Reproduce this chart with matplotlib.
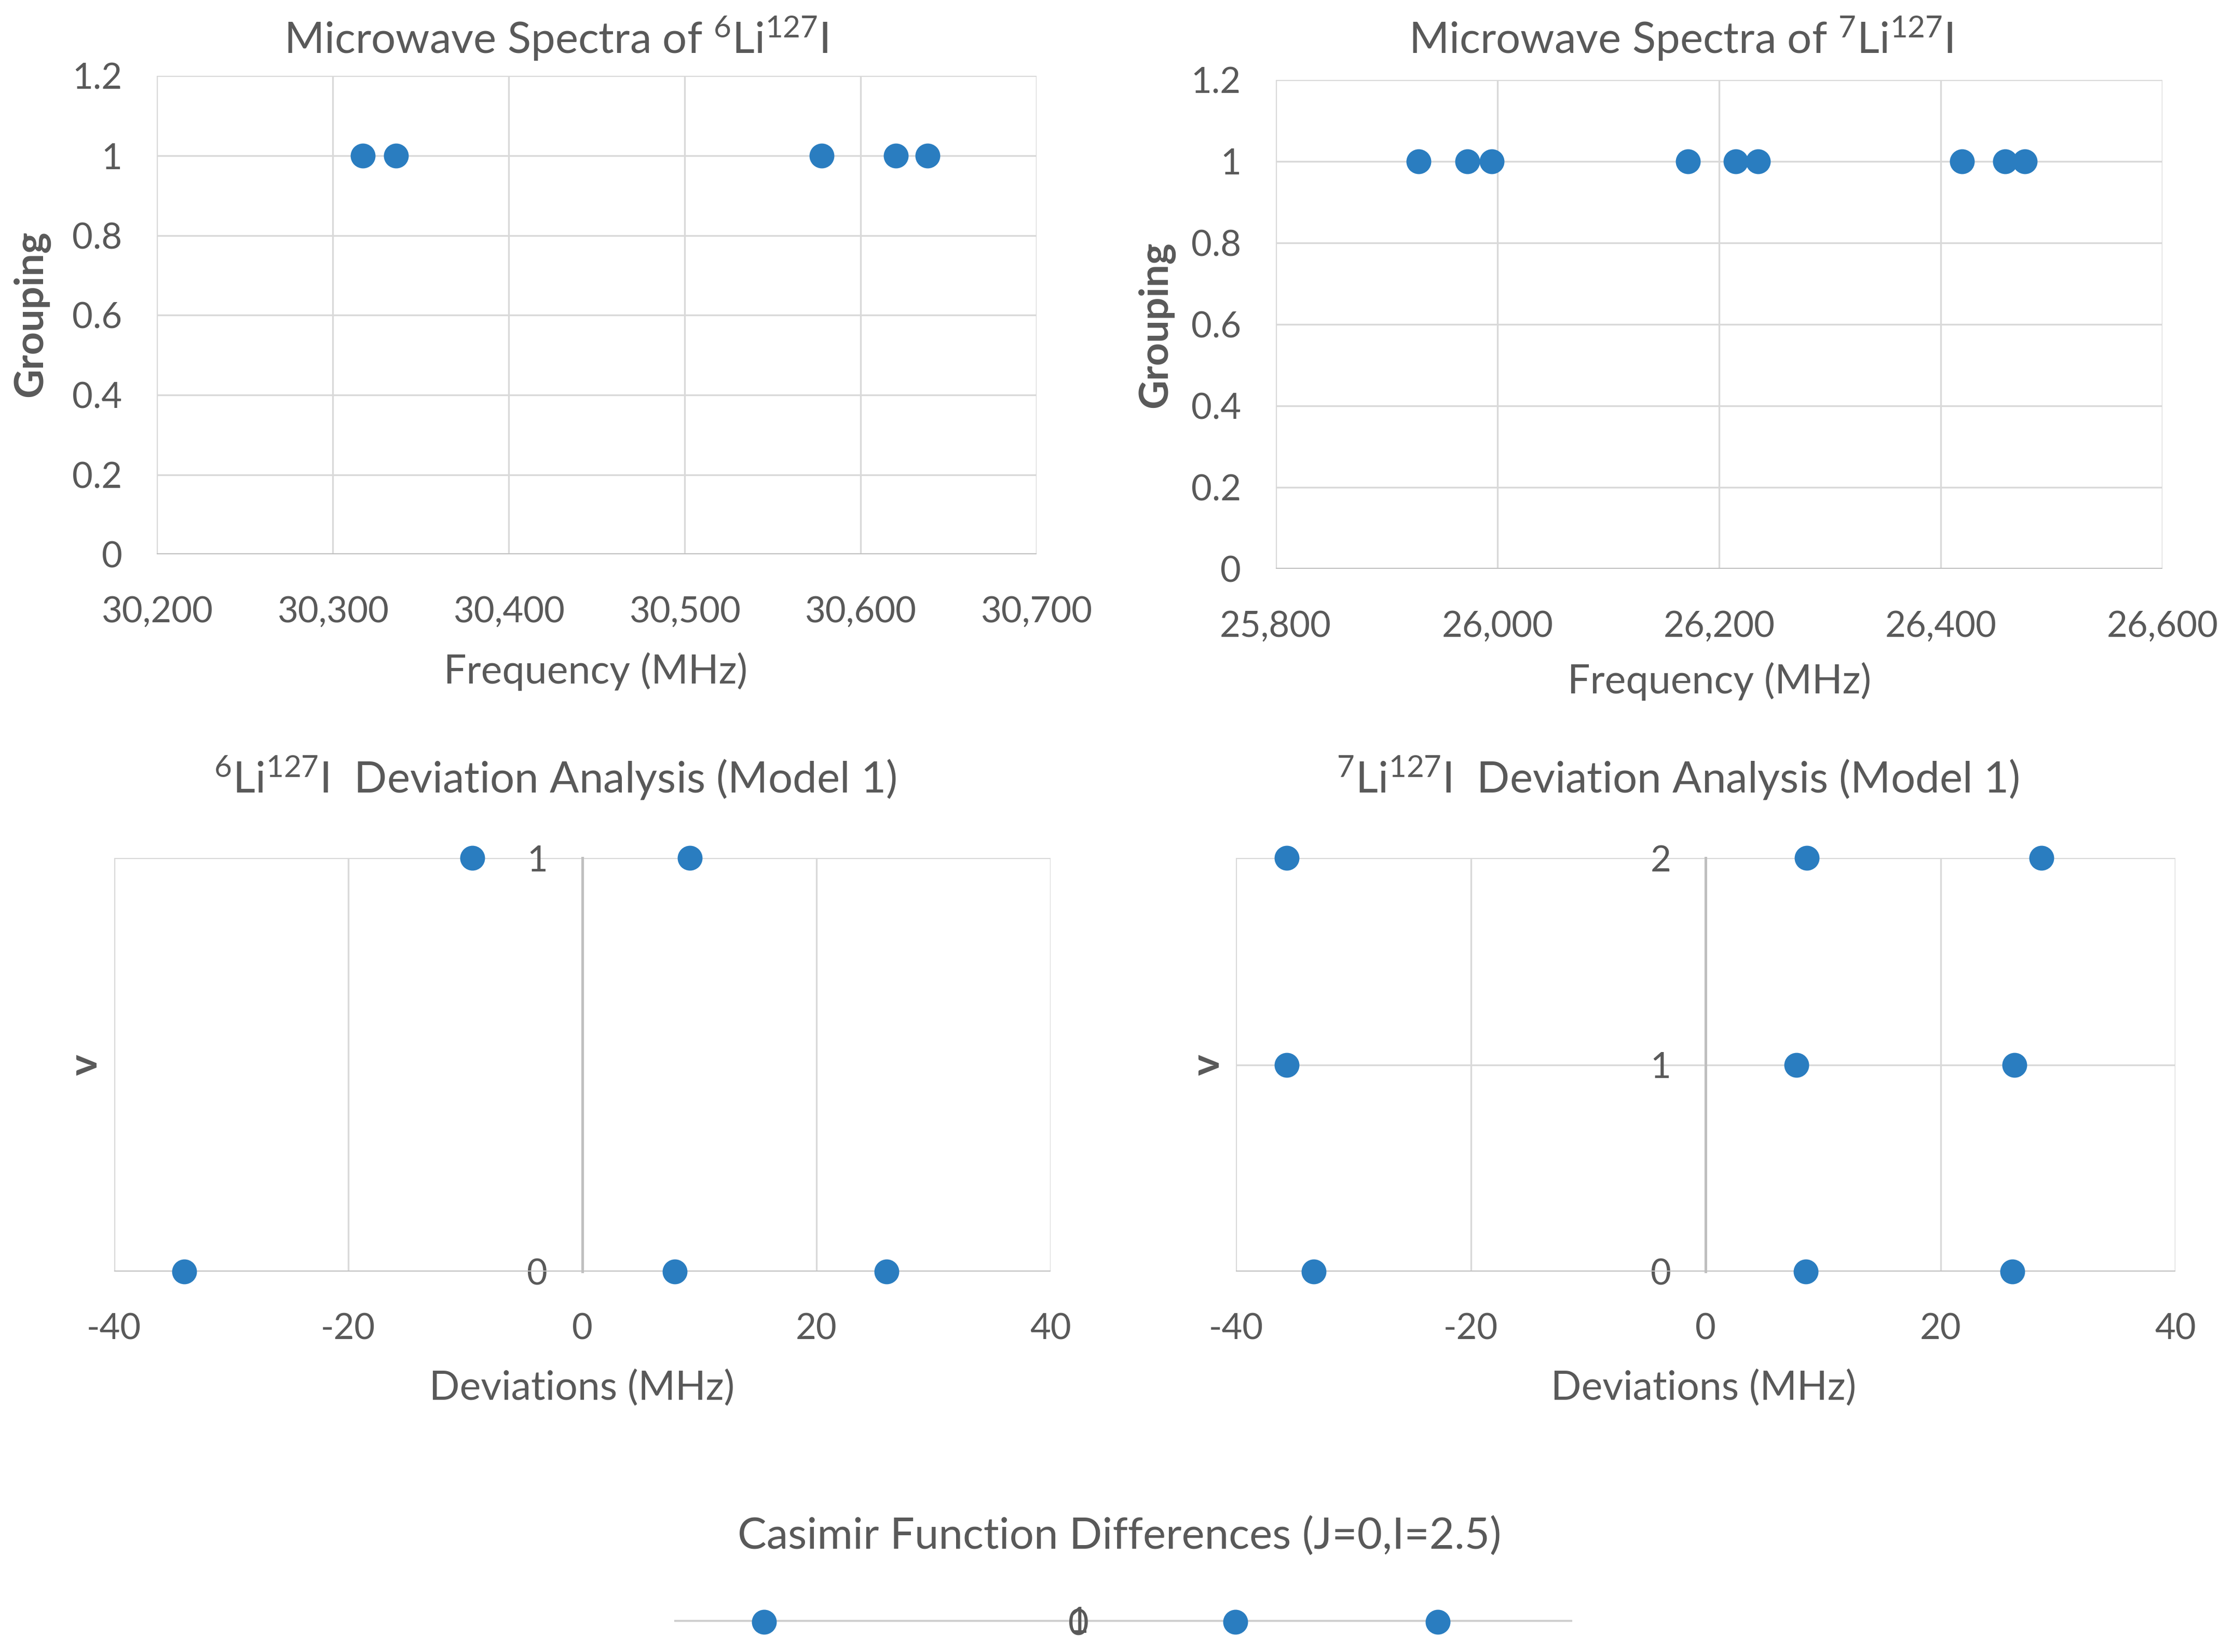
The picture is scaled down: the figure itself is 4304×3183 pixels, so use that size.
import matplotlib
matplotlib.use("Agg")
import matplotlib.pyplot as plt
from matplotlib.ticker import FuncFormatter

# ---------------- data ----------------
li6_freq = [30317, 30336, 30578, 30620, 30638]
li6_group = [1, 1, 1, 1, 1]

li7_freq = [25929, 25973, 25995, 26172, 26215, 26235, 26419, 26458, 26476]
li7_group = [1, 1, 1, 1, 1, 1, 1, 1, 1]

li6_dev = [-9.4, 9.2, -34.0, 7.9, 26.0]
li6_v = [1, 1, 0, 0, 0]

li7_dev = [-35.7, 8.6, 28.6, -35.7, 7.7, 26.3, -33.4, 8.5, 26.1]
li7_v = [2, 2, 2, 1, 1, 1, 0, 0, 0]

casimir_x = [-0.16, 0.05, 0.14]
casimir_y = [0, 0, 0]

# ---------------- style ----------------
plt.rcParams['font.family'] = ['Lato', 'DejaVu Sans']
plt.rcParams['mathtext.fontset'] = 'custom'
plt.rcParams['mathtext.rm'] = 'Lato'
plt.rcParams['mathtext.it'] = 'Lato:italic'
plt.rcParams['mathtext.bf'] = 'Lato:bold'

TXT = '#595959'
GRID = '#D9D9D9'
AXL = '#BFBFBF'
DOT = '#2A7DC0'
MS = 10.5
TICK_FS = 16.5
TITLE_FS = 20
LAB_FS = 18.5

fig = plt.figure(figsize=(4304/300, 3183/300), dpi=300)


def base_style(ax):
    for s in ax.spines.values():
        s.set_visible(False)
    ax.grid(True, color=GRID, lw=0.8, zorder=0)
    ax.set_axisbelow(True)
    ax.tick_params(length=0, labelsize=TICK_FS, labelcolor=TXT, pad=16)
    ax.tick_params(axis='x', pad=19)


comma = FuncFormatter(lambda v, p: f"{v:,.0f}")
dec = FuncFormatter(lambda v, p: f"{v:g}")

# ---- top-left ----
ax1 = fig.add_axes([0.0702, 0.6644, 0.3938, 0.2896])
base_style(ax1)
ax1.set_xlim(30200, 30700)
ax1.set_ylim(0, 1.2)
ax1.set_xticks([30200, 30300, 30400, 30500, 30600, 30700])
ax1.set_yticks([0, 0.2, 0.4, 0.6, 0.8, 1.0, 1.2])
ax1.xaxis.set_major_formatter(comma)
ax1.yaxis.set_major_formatter(dec)
ax1.axhline(0, color=AXL, lw=1.2, zorder=1)
ax1.plot(li6_freq, li6_group, 'o', color=DOT, ms=MS, ls='none', zorder=3, clip_on=False)

# ---- top-right ----
ax2 = fig.add_axes([0.571, 0.6557, 0.397, 0.296])
base_style(ax2)
ax2.set_xlim(25800, 26600)
ax2.set_ylim(0, 1.2)
ax2.set_xticks([25800, 26000, 26200, 26400, 26600])
ax2.set_yticks([0, 0.2, 0.4, 0.6, 0.8, 1.0, 1.2])
ax2.xaxis.set_major_formatter(comma)
ax2.yaxis.set_major_formatter(dec)
ax2.axhline(0, color=AXL, lw=1.2, zorder=1)
ax2.plot(li7_freq, li7_group, 'o', color=DOT, ms=MS, ls='none', zorder=3, clip_on=False)


def dev_axes(rect, vmax, dev, v):
    ax = fig.add_axes(rect)
    base_style(ax)
    ax.set_xlim(-40, 40)
    ax.set_ylim(0, vmax)
    ax.set_xticks([-40, -20, 0, 20, 40])
    ax.set_yticks(list(range(vmax + 1)))
    ax.xaxis.set_major_formatter(dec)
    ax.spines['left'].set_visible(True)
    ax.spines['left'].set_position(('data', 0))
    ax.spines['left'].set_color(AXL)
    ax.spines['left'].set_linewidth(1.2)
    ax.axhline(0, color=AXL, lw=1.2, zorder=1)
    ax.tick_params(axis='y', pad=16)
    ax.plot(dev, v, 'o', color=DOT, ms=MS, ls='none', zorder=3, clip_on=False)
    return ax

ax3 = dev_axes([0.051, 0.2303, 0.4193, 0.2503], 1, li6_dev, li6_v)
ax4 = dev_axes([0.5533, 0.2303, 0.4205, 0.2503], 2, li7_dev, li7_v)

# ---- Casimir ----
ax5 = fig.add_axes([0.3018, 0.0183, 0.402, 0.0012])
for s in ax5.spines.values():
    s.set_visible(False)
ax5.set_xlim(-0.2, 0.2)
ax5.set_ylim(0, 1)
ax5.axhline(0.5, color='#D0D0D0', lw=2.2, zorder=1)
ax5.set_xticks([])
ax5.set_yticks([0, 1])
ax5.spines['left'].set_position(('data', 0))
ax5.tick_params(axis='y', length=0, labelsize=TICK_FS, labelcolor=TXT, pad=16)
ax5.plot(casimir_x, casimir_y, 'o', color=DOT, ms=MS, ls='none', zorder=3, clip_on=False)

# ---- titles & labels ----
fig.text(0.2489, 0.9767, r'Microwave Spectra of $^{6}$Li$^{127}$I', ha='center', va='center', fontsize=TITLE_FS, color=TXT)
fig.text(0.7523, 0.9767, r'Microwave Spectra of $^{7}$Li$^{127}$I', ha='center', va='center', fontsize=TITLE_FS, color=TXT)
fig.text(0.2485, 0.529, r'$^{6}$Li$^{127}$I  Deviation Analysis (Model 1)', ha='center', va='center', fontsize=TITLE_FS, color=TXT)
fig.text(0.751, 0.529, r'$^{7}$Li$^{127}$I  Deviation Analysis (Model 1)', ha='center', va='center', fontsize=TITLE_FS, color=TXT)
fig.text(0.501, 0.0698, 'Casimir Function Differences (J=0,I=2.5)', ha='center', va='center', fontsize=TITLE_FS, color=TXT)

fig.text(0.2667, 0.5936, 'Frequency (MHz)', ha='center', va='center', fontsize=LAB_FS, color=TXT)
fig.text(0.7696, 0.5876, 'Frequency (MHz)', ha='center', va='center', fontsize=LAB_FS, color=TXT)
fig.text(0.2604, 0.1596, 'Deviations (MHz)', ha='center', va='center', fontsize=LAB_FS, color=TXT)
fig.text(0.7626, 0.1596, 'Deviations (MHz)', ha='center', va='center', fontsize=LAB_FS, color=TXT)

fig.text(0.014, 0.810, 'Grouping', ha='center', va='center', rotation=90, fontsize=LAB_FS, color=TXT, fontweight='bold')
fig.text(0.5175, 0.8033, 'Grouping', ha='center', va='center', rotation=90, fontsize=LAB_FS, color=TXT, fontweight='bold')
fig.text(0.0383, 0.3554, 'v', ha='center', va='center', rotation=90, fontsize=LAB_FS, color=TXT, fontweight='bold')
fig.text(0.5405, 0.3554, 'v', ha='center', va='center', rotation=90, fontsize=LAB_FS, color=TXT, fontweight='bold')

fig.savefig('out.png', dpi=300, facecolor='white')
